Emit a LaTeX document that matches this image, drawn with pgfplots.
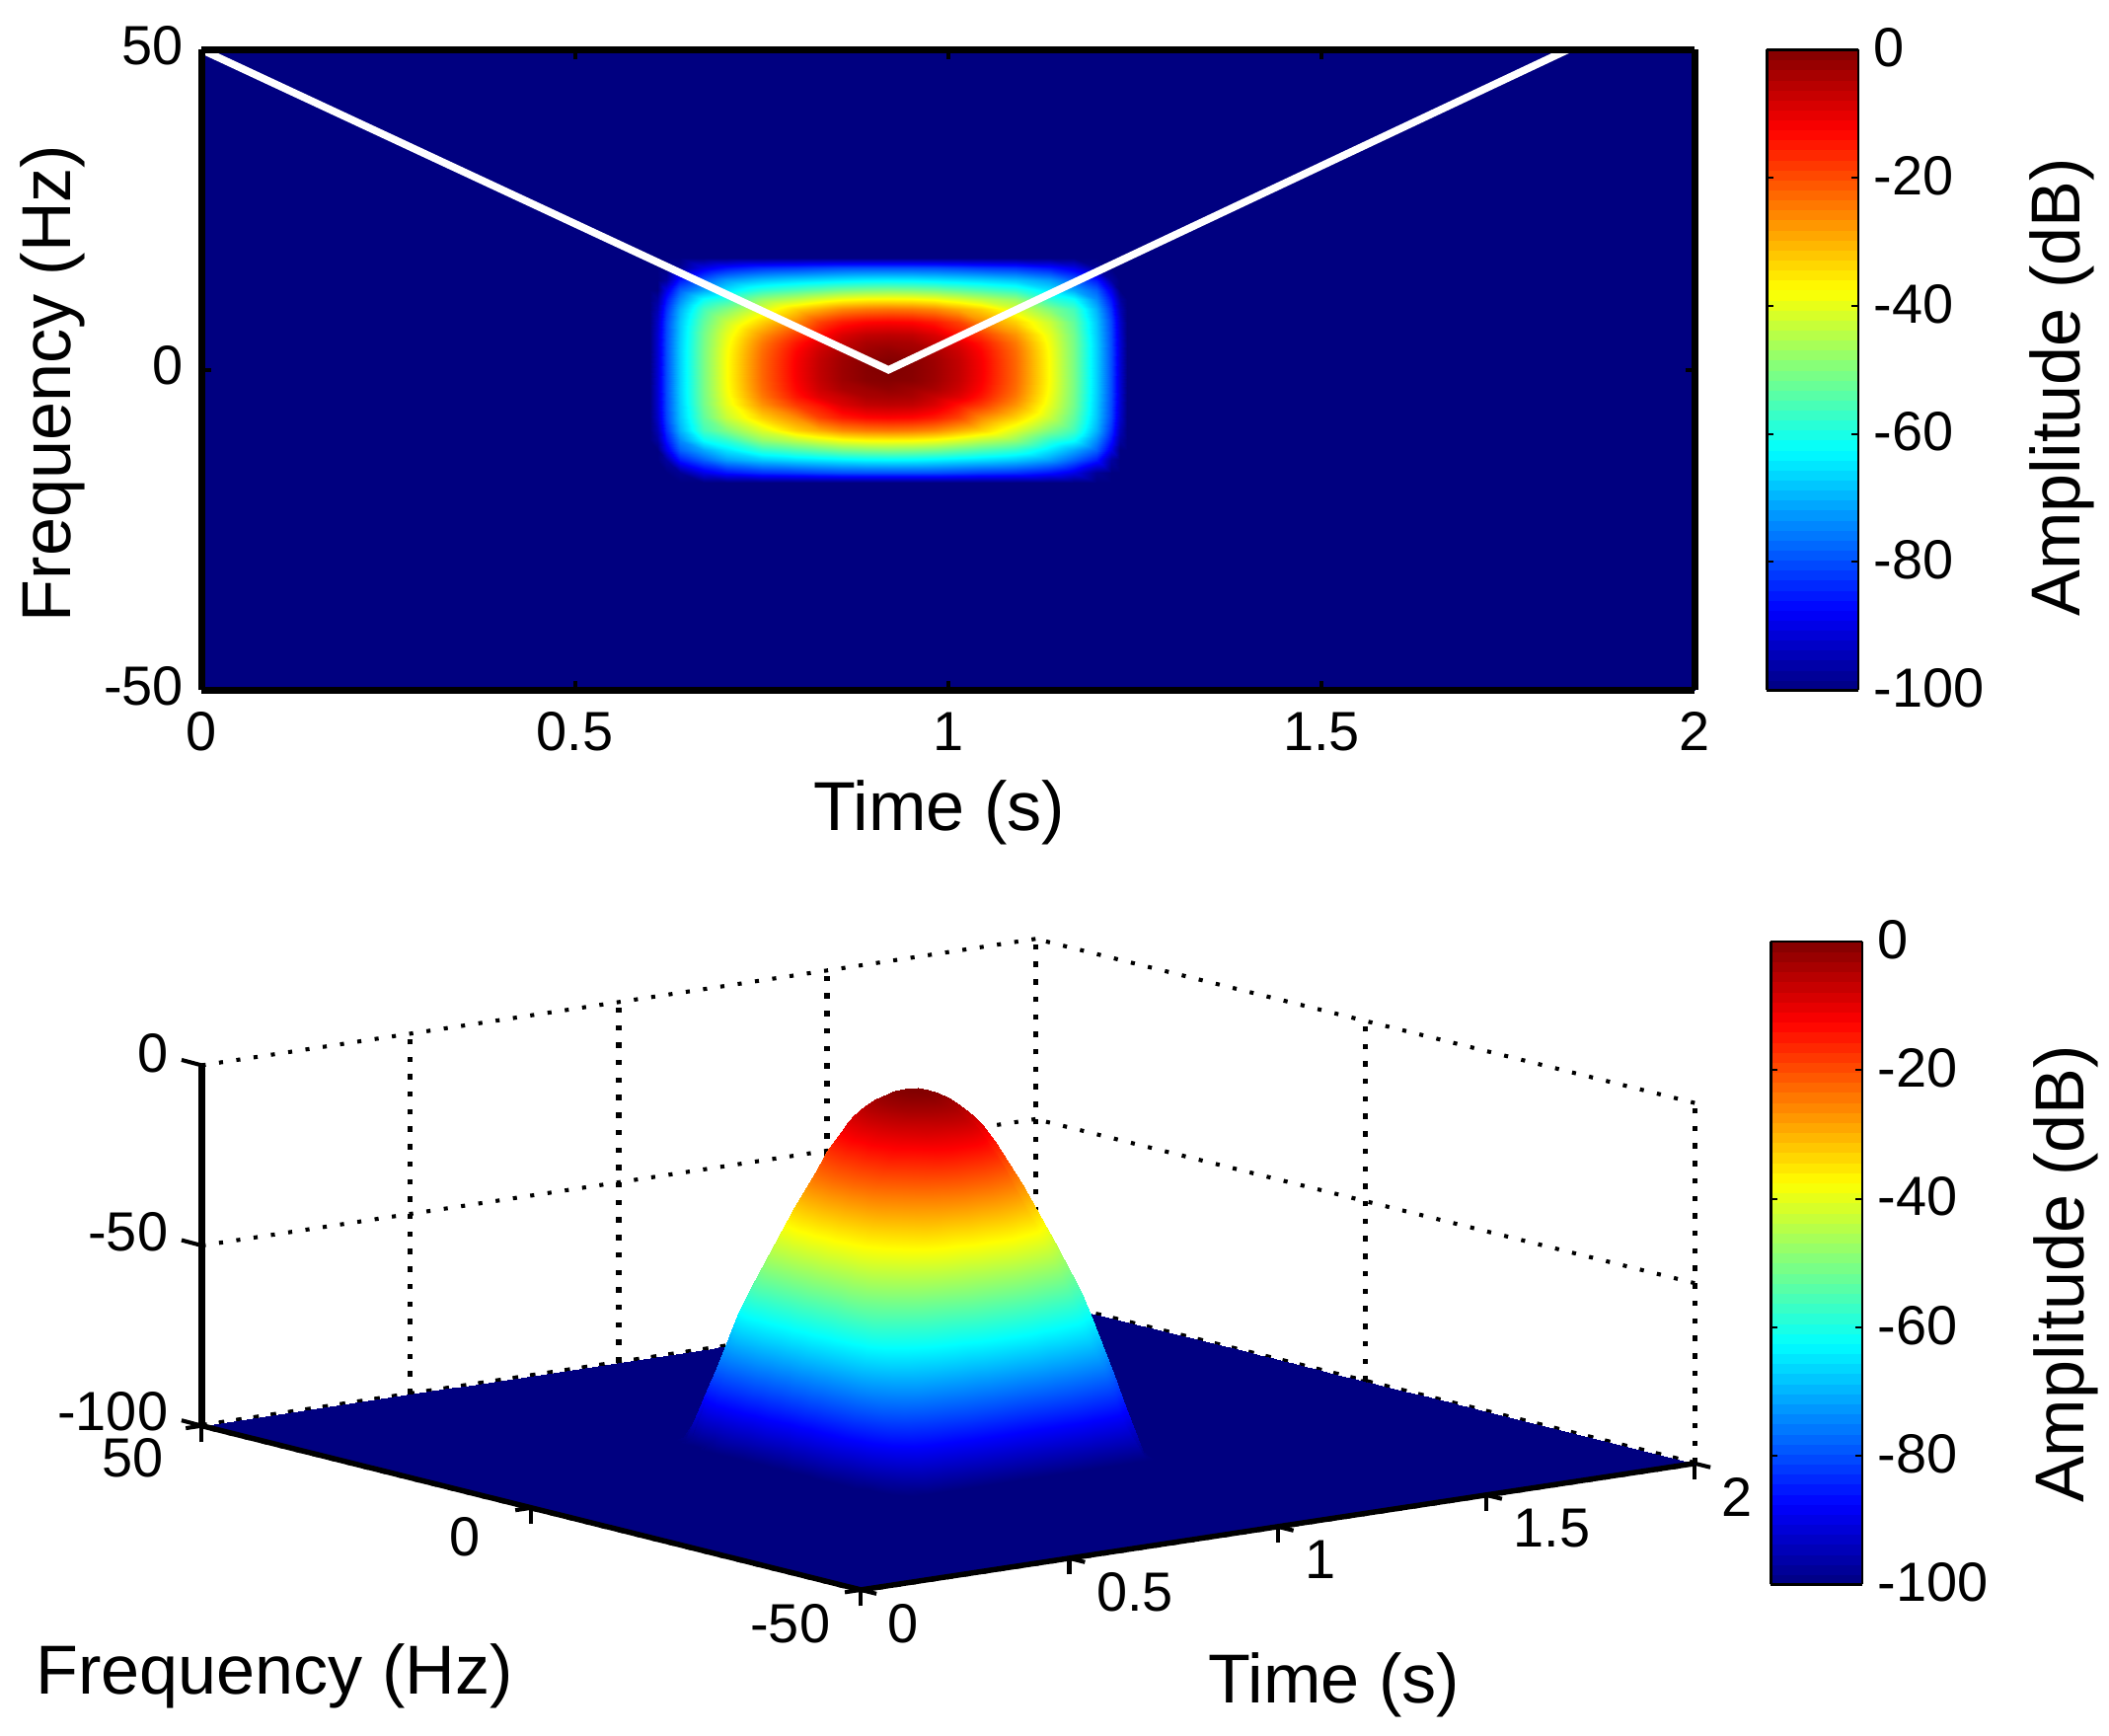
\documentclass[border=0pt]{standalone}
\usepackage{fontspec}
\setmainfont{Liberation Sans}
\usepackage{pgfplots}
\pgfplotsset{compat=1.18}

% spectrogram amplitude in dB; one line per time
\pgfplotstableread[row sep=\\]{
t f z\\
0 -50 -100\\ 0 -17.6 -100\\ 0 -16 -100\\ 0 -14 -100\\ 0 -12.5 -100\\ 0 -11 -100\\ 0 -9.5 -100\\ 0 -7.5 -100\\ 0 -5.5 -100\\ 0 -4.25 -100\\ 0 -3 -100\\ 0 -1.5 -100\\ 0 0 -100\\ 0 1.5 -100\\ 0 3 -100\\ 0 4.25 -100\\ 0 5.5 -100\\ 0 7.5 -100\\ 0 9.5 -100\\ 0 11 -100\\ 0 12.5 -100\\ 0 14 -100\\ 0 16 -100\\ 0 17.6 -100\\ 0 50 -100\\
.6 -50 -100\\ .6 -17.6 -100\\ .6 -16 -100\\ .6 -14 -100\\ .6 -12.5 -100\\ .6 -11 -100\\ .6 -9.5 -100\\ .6 -7.5 -100\\ .6 -5.5 -100\\ .6 -4.25 -100\\ .6 -3 -100\\ .6 -1.5 -100\\ .6 0 -100\\ .6 1.5 -100\\ .6 3 -100\\ .6 4.25 -100\\ .6 5.5 -100\\ .6 7.5 -100\\ .6 9.5 -100\\ .6 11 -100\\ .6 12.5 -100\\ .6 14 -100\\ .6 16 -100\\ .6 17.6 -100\\ .6 50 -100\\
.61 -50 -100\\ .61 -17.6 -100\\ .61 -16 -100\\ .61 -14 -100\\ .61 -12.5 -100\\ .61 -11 -97\\ .61 -9.5 -95\\ .61 -7.5 -93\\ .61 -5.5 -92.3\\ .61 -4.25 -92.1\\ .61 -3 -92\\ .61 -1.5 -92\\ .61 0 -92\\ .61 1.5 -92\\ .61 3 -92\\ .61 4.25 -92.1\\ .61 5.5 -92.3\\ .61 7.5 -93\\ .61 9.5 -95\\ .61 11 -97\\ .61 12.5 -100\\ .61 14 -100\\ .61 16 -100\\ .61 17.6 -100\\ .61 50 -100\\
.622 -50 -100\\ .622 -17.6 -100\\ .622 -16 -100\\ .622 -14 -97\\ .622 -12.5 -90\\ .622 -11 -86\\ .622 -9.5 -83\\ .622 -7.5 -80.8\\ .622 -5.5 -80.3\\ .622 -4.25 -80.1\\ .622 -3 -80\\ .622 -1.5 -80\\ .622 0 -80\\ .622 1.5 -80\\ .622 3 -80\\ .622 4.25 -80.1\\ .622 5.5 -80.3\\ .622 7.5 -80.8\\ .622 9.5 -83\\ .622 11 -86\\ .622 12.5 -90\\ .622 14 -97\\ .622 16 -100\\ .622 17.6 -100\\ .622 50 -100\\
.641 -50 -100\\ .641 -17.6 -100\\ .641 -16 -98\\ .641 -14 -85\\ .641 -12.5 -78\\ .641 -11 -74\\ .641 -9.5 -70\\ .641 -7.5 -68\\ .641 -5.5 -67.5\\ .641 -4.25 -67.2\\ .641 -3 -67\\ .641 -1.5 -67\\ .641 0 -67\\ .641 1.5 -67\\ .641 3 -67\\ .641 4.25 -67.2\\ .641 5.5 -67.5\\ .641 7.5 -68\\ .641 9.5 -70\\ .641 11 -74\\ .641 12.5 -78\\ .641 14 -85\\ .641 16 -98\\ .641 17.6 -100\\ .641 50 -100\\
.672 -50 -100\\ .672 -17.6 -100\\ .672 -16 -90\\ .672 -14 -78\\ .672 -12.5 -71\\ .672 -11 -62\\ .672 -9.5 -56\\ .672 -7.5 -53\\ .672 -5.5 -51.2\\ .672 -4.25 -50.9\\ .672 -3 -50.6\\ .672 -1.5 -50.5\\ .672 0 -50.5\\ .672 1.5 -50.5\\ .672 3 -50.6\\ .672 4.25 -50.9\\ .672 5.5 -51.2\\ .672 7.5 -53\\ .672 9.5 -56\\ .672 11 -62\\ .672 12.5 -71\\ .672 14 -78\\ .672 16 -90\\ .672 17.6 -100\\ .672 50 -100\\
.703 -50 -100\\ .703 -17.6 -100\\ .703 -16 -86\\ .703 -14 -72\\ .703 -12.5 -65\\ .703 -11 -58\\ .703 -9.5 -50\\ .703 -7.5 -43\\ .703 -5.5 -40\\ .703 -4.25 -39\\ .703 -3 -38.3\\ .703 -1.5 -38\\ .703 0 -38\\ .703 1.5 -38\\ .703 3 -38.3\\ .703 4.25 -39\\ .703 5.5 -40\\ .703 7.5 -43\\ .703 9.5 -50\\ .703 11 -58\\ .703 12.5 -65\\ .703 14 -72\\ .703 16 -86\\ .703 17.6 -100\\ .703 50 -100\\
.75 -50 -100\\ .75 -17.6 -100\\ .75 -16 -83\\ .75 -14 -68\\ .75 -12.5 -58\\ .75 -11 -48\\ .75 -9.5 -41\\ .75 -7.5 -33\\ .75 -5.5 -27\\ .75 -4.25 -24.5\\ .75 -3 -23.2\\ .75 -1.5 -22.6\\ .75 0 -22.5\\ .75 1.5 -22.6\\ .75 3 -23.2\\ .75 4.25 -24.5\\ .75 5.5 -27\\ .75 7.5 -33\\ .75 9.5 -41\\ .75 11 -48\\ .75 12.5 -58\\ .75 14 -68\\ .75 16 -83\\ .75 17.6 -100\\ .75 50 -100\\
.796 -50 -100\\ .796 -17.6 -100\\ .796 -16 -82\\ .796 -14 -66\\ .796 -12.5 -55\\ .796 -11 -44\\ .796 -9.5 -33\\ .796 -7.5 -26\\ .796 -5.5 -18\\ .796 -4.25 -14.5\\ .796 -3 -12.8\\ .796 -1.5 -11.9\\ .796 0 -11.7\\ .796 1.5 -11.9\\ .796 3 -12.8\\ .796 4.25 -14.5\\ .796 5.5 -18\\ .796 7.5 -26\\ .796 9.5 -33\\ .796 11 -44\\ .796 12.5 -55\\ .796 14 -66\\ .796 16 -82\\ .796 17.6 -100\\ .796 50 -100\\
.827 -50 -100\\ .827 -17.6 -100\\ .827 -16 -81\\ .827 -14 -65\\ .827 -12.5 -53\\ .827 -11 -41\\ .827 -9.5 -29.5\\ .827 -7.5 -19\\ .827 -5.5 -14\\ .827 -4.25 -9.5\\ .827 -3 -7.6\\ .827 -1.5 -6.6\\ .827 0 -6.4\\ .827 1.5 -6.6\\ .827 3 -7.6\\ .827 4.25 -9.5\\ .827 5.5 -14\\ .827 7.5 -19\\ .827 9.5 -29.5\\ .827 11 -41\\ .827 12.5 -53\\ .827 14 -65\\ .827 16 -81\\ .827 17.6 -100\\ .827 50 -100\\
.858 -50 -100\\ .858 -17.6 -100\\ .858 -16 -80.2\\ .858 -14 -64\\ .858 -12.5 -51\\ .858 -11 -38.5\\ .858 -9.5 -26\\ .858 -7.5 -15\\ .858 -5.5 -9\\ .858 -4.25 -7\\ .858 -3 -4.2\\ .858 -1.5 -3\\ .858 0 -2.8\\ .858 1.5 -3\\ .858 3 -4.2\\ .858 4.25 -7\\ .858 5.5 -9\\ .858 7.5 -15\\ .858 9.5 -26\\ .858 11 -38.5\\ .858 12.5 -51\\ .858 14 -64\\ .858 16 -80.2\\ .858 17.6 -100\\ .858 50 -100\\
.889 -50 -100\\ .889 -17.6 -100\\ .889 -16 -80\\ .889 -14 -63.2\\ .889 -12.5 -50\\ .889 -11 -37.2\\ .889 -9.5 -24.5\\ .889 -7.5 -13\\ .889 -5.5 -6.5\\ .889 -4.25 -4.2\\ .889 -3 -3\\ .889 -1.5 -.9\\ .889 0 -.7\\ .889 1.5 -.9\\ .889 3 -3\\ .889 4.25 -4.2\\ .889 5.5 -6.5\\ .889 7.5 -13\\ .889 9.5 -24.5\\ .889 11 -37.2\\ .889 12.5 -50\\ .889 14 -63.2\\ .889 16 -80\\ .889 17.6 -100\\ .889 50 -100\\
.92 -50 -100\\ .92 -17.6 -100\\ .92 -16 -80\\ .92 -14 -63\\ .92 -12.5 -49.5\\ .92 -11 -37\\ .92 -9.5 -24\\ .92 -7.5 -12.5\\ .92 -5.5 -6\\ .92 -4.25 -3.7\\ .92 -3 -1.8\\ .92 -1.5 -.45\\ .92 0 0\\ .92 1.5 -.45\\ .92 3 -1.8\\ .92 4.25 -3.7\\ .92 5.5 -6\\ .92 7.5 -12.5\\ .92 9.5 -24\\ .92 11 -37\\ .92 12.5 -49.5\\ .92 14 -63\\ .92 16 -80\\ .92 17.6 -100\\ .92 50 -100\\
.951 -50 -100\\ .951 -17.6 -100\\ .951 -16 -80\\ .951 -14 -63.2\\ .951 -12.5 -50\\ .951 -11 -37.2\\ .951 -9.5 -24.5\\ .951 -7.5 -13\\ .951 -5.5 -6.5\\ .951 -4.25 -4.2\\ .951 -3 -3\\ .951 -1.5 -.9\\ .951 0 -.7\\ .951 1.5 -.9\\ .951 3 -3\\ .951 4.25 -4.2\\ .951 5.5 -6.5\\ .951 7.5 -13\\ .951 9.5 -24.5\\ .951 11 -37.2\\ .951 12.5 -50\\ .951 14 -63.2\\ .951 16 -80\\ .951 17.6 -100\\ .951 50 -100\\
.982 -50 -100\\ .982 -17.6 -100\\ .982 -16 -80.2\\ .982 -14 -64\\ .982 -12.5 -51\\ .982 -11 -38.5\\ .982 -9.5 -26\\ .982 -7.5 -15\\ .982 -5.5 -9\\ .982 -4.25 -7\\ .982 -3 -4.2\\ .982 -1.5 -3\\ .982 0 -2.8\\ .982 1.5 -3\\ .982 3 -4.2\\ .982 4.25 -7\\ .982 5.5 -9\\ .982 7.5 -15\\ .982 9.5 -26\\ .982 11 -38.5\\ .982 12.5 -51\\ .982 14 -64\\ .982 16 -80.2\\ .982 17.6 -100\\ .982 50 -100\\
1.013 -50 -100\\ 1.013 -17.6 -100\\ 1.013 -16 -81\\ 1.013 -14 -65\\ 1.013 -12.5 -53\\ 1.013 -11 -41\\ 1.013 -9.5 -29.5\\ 1.013 -7.5 -19\\ 1.013 -5.5 -14\\ 1.013 -4.25 -9.5\\ 1.013 -3 -7.6\\ 1.013 -1.5 -6.6\\ 1.013 0 -6.4\\ 1.013 1.5 -6.6\\ 1.013 3 -7.6\\ 1.013 4.25 -9.5\\ 1.013 5.5 -14\\ 1.013 7.5 -19\\ 1.013 9.5 -29.5\\ 1.013 11 -41\\ 1.013 12.5 -53\\ 1.013 14 -65\\ 1.013 16 -81\\ 1.013 17.6 -100\\ 1.013 50 -100\\
1.044 -50 -100\\ 1.044 -17.6 -100\\ 1.044 -16 -82\\ 1.044 -14 -66\\ 1.044 -12.5 -55\\ 1.044 -11 -44\\ 1.044 -9.5 -33\\ 1.044 -7.5 -26\\ 1.044 -5.5 -18\\ 1.044 -4.25 -14.5\\ 1.044 -3 -12.8\\ 1.044 -1.5 -11.9\\ 1.044 0 -11.7\\ 1.044 1.5 -11.9\\ 1.044 3 -12.8\\ 1.044 4.25 -14.5\\ 1.044 5.5 -18\\ 1.044 7.5 -26\\ 1.044 9.5 -33\\ 1.044 11 -44\\ 1.044 12.5 -55\\ 1.044 14 -66\\ 1.044 16 -82\\ 1.044 17.6 -100\\ 1.044 50 -100\\
1.09 -50 -100\\ 1.09 -17.6 -100\\ 1.09 -16 -83\\ 1.09 -14 -68\\ 1.09 -12.5 -58\\ 1.09 -11 -48\\ 1.09 -9.5 -41\\ 1.09 -7.5 -33\\ 1.09 -5.5 -27\\ 1.09 -4.25 -24.5\\ 1.09 -3 -23.2\\ 1.09 -1.5 -22.6\\ 1.09 0 -22.5\\ 1.09 1.5 -22.6\\ 1.09 3 -23.2\\ 1.09 4.25 -24.5\\ 1.09 5.5 -27\\ 1.09 7.5 -33\\ 1.09 9.5 -41\\ 1.09 11 -48\\ 1.09 12.5 -58\\ 1.09 14 -68\\ 1.09 16 -83\\ 1.09 17.6 -100\\ 1.09 50 -100\\
1.137 -50 -100\\ 1.137 -17.6 -100\\ 1.137 -16 -86\\ 1.137 -14 -72\\ 1.137 -12.5 -65\\ 1.137 -11 -58\\ 1.137 -9.5 -50\\ 1.137 -7.5 -43\\ 1.137 -5.5 -40\\ 1.137 -4.25 -39\\ 1.137 -3 -38.3\\ 1.137 -1.5 -38\\ 1.137 0 -38\\ 1.137 1.5 -38\\ 1.137 3 -38.3\\ 1.137 4.25 -39\\ 1.137 5.5 -40\\ 1.137 7.5 -43\\ 1.137 9.5 -50\\ 1.137 11 -58\\ 1.137 12.5 -65\\ 1.137 14 -72\\ 1.137 16 -86\\ 1.137 17.6 -100\\ 1.137 50 -100\\
1.168 -50 -100\\ 1.168 -17.6 -100\\ 1.168 -16 -90\\ 1.168 -14 -78\\ 1.168 -12.5 -71\\ 1.168 -11 -62\\ 1.168 -9.5 -56\\ 1.168 -7.5 -53\\ 1.168 -5.5 -51.2\\ 1.168 -4.25 -50.9\\ 1.168 -3 -50.6\\ 1.168 -1.5 -50.5\\ 1.168 0 -50.5\\ 1.168 1.5 -50.5\\ 1.168 3 -50.6\\ 1.168 4.25 -50.9\\ 1.168 5.5 -51.2\\ 1.168 7.5 -53\\ 1.168 9.5 -56\\ 1.168 11 -62\\ 1.168 12.5 -71\\ 1.168 14 -78\\ 1.168 16 -90\\ 1.168 17.6 -100\\ 1.168 50 -100\\
1.199 -50 -100\\ 1.199 -17.6 -100\\ 1.199 -16 -98\\ 1.199 -14 -85\\ 1.199 -12.5 -78\\ 1.199 -11 -74\\ 1.199 -9.5 -70\\ 1.199 -7.5 -68\\ 1.199 -5.5 -67.5\\ 1.199 -4.25 -67.2\\ 1.199 -3 -67\\ 1.199 -1.5 -67\\ 1.199 0 -67\\ 1.199 1.5 -67\\ 1.199 3 -67\\ 1.199 4.25 -67.2\\ 1.199 5.5 -67.5\\ 1.199 7.5 -68\\ 1.199 9.5 -70\\ 1.199 11 -74\\ 1.199 12.5 -78\\ 1.199 14 -85\\ 1.199 16 -98\\ 1.199 17.6 -100\\ 1.199 50 -100\\
1.218 -50 -100\\ 1.218 -17.6 -100\\ 1.218 -16 -100\\ 1.218 -14 -97\\ 1.218 -12.5 -90\\ 1.218 -11 -86\\ 1.218 -9.5 -83\\ 1.218 -7.5 -80.8\\ 1.218 -5.5 -80.3\\ 1.218 -4.25 -80.1\\ 1.218 -3 -80\\ 1.218 -1.5 -80\\ 1.218 0 -80\\ 1.218 1.5 -80\\ 1.218 3 -80\\ 1.218 4.25 -80.1\\ 1.218 5.5 -80.3\\ 1.218 7.5 -80.8\\ 1.218 9.5 -83\\ 1.218 11 -86\\ 1.218 12.5 -90\\ 1.218 14 -97\\ 1.218 16 -100\\ 1.218 17.6 -100\\ 1.218 50 -100\\
1.23 -50 -100\\ 1.23 -17.6 -100\\ 1.23 -16 -100\\ 1.23 -14 -100\\ 1.23 -12.5 -100\\ 1.23 -11 -97\\ 1.23 -9.5 -95\\ 1.23 -7.5 -93\\ 1.23 -5.5 -92.3\\ 1.23 -4.25 -92.1\\ 1.23 -3 -92\\ 1.23 -1.5 -92\\ 1.23 0 -92\\ 1.23 1.5 -92\\ 1.23 3 -92\\ 1.23 4.25 -92.1\\ 1.23 5.5 -92.3\\ 1.23 7.5 -93\\ 1.23 9.5 -95\\ 1.23 11 -97\\ 1.23 12.5 -100\\ 1.23 14 -100\\ 1.23 16 -100\\ 1.23 17.6 -100\\ 1.23 50 -100\\
1.24 -50 -100\\ 1.24 -17.6 -100\\ 1.24 -16 -100\\ 1.24 -14 -100\\ 1.24 -12.5 -100\\ 1.24 -11 -100\\ 1.24 -9.5 -100\\ 1.24 -7.5 -100\\ 1.24 -5.5 -100\\ 1.24 -4.25 -100\\ 1.24 -3 -100\\ 1.24 -1.5 -100\\ 1.24 0 -100\\ 1.24 1.5 -100\\ 1.24 3 -100\\ 1.24 4.25 -100\\ 1.24 5.5 -100\\ 1.24 7.5 -100\\ 1.24 9.5 -100\\ 1.24 11 -100\\ 1.24 12.5 -100\\ 1.24 14 -100\\ 1.24 16 -100\\ 1.24 17.6 -100\\ 1.24 50 -100\\
2 -50 -100\\ 2 -17.6 -100\\ 2 -16 -100\\ 2 -14 -100\\ 2 -12.5 -100\\ 2 -11 -100\\ 2 -9.5 -100\\ 2 -7.5 -100\\ 2 -5.5 -100\\ 2 -4.25 -100\\ 2 -3 -100\\ 2 -1.5 -100\\ 2 0 -100\\ 2 1.5 -100\\ 2 3 -100\\ 2 4.25 -100\\ 2 5.5 -100\\ 2 7.5 -100\\ 2 9.5 -100\\ 2 11 -100\\ 2 12.5 -100\\ 2 14 -100\\ 2 16 -100\\ 2 17.6 -100\\ 2 50 -100\\
}\hill

\newcommand{\labelfont}{\fontsize{51.5}{55}\selectfont}

\pgfplotsset{
	colormap/jet,
	/pgf/number format/assume math mode=true,
	tick label style={font=\fontsize{41}{41}\selectfont},
	ampbar/.style={
		colorbar sampled,
		colorbar style={
			samples=65,
			width=68pt,
			height=#1,
			scale only axis,
			ytick={-100,-80,-60,-40,-20,0},
			ylabel={Amplitude (dB)},
			yticklabel pos=right,
			yticklabel shift=8pt,
			yticklabel style={yshift=1.5pt},
			ylabel shift=27pt,
			axis line style={line width=2pt},
			tick style={black,line width=1.5pt},
			major tick length=5pt,
			tick align=inside,
		},
	},
}

\begin{document}
\begin{tikzpicture}
\path[use as bounding box] (0,0) rectangle (1568pt,1290pt);

\begin{axis}[
	at={(150pt,777pt)}, anchor=south west,
	width=1110pt, height=476pt, scale only axis,
	view={0}{90},
	xmin=0, xmax=2, ymin=-50, ymax=50,
	xtick={0,0.5,1,1.5,2}, ytick={-50,0,50},
	xticklabel shift=13pt, yticklabel shift=10pt,
	yticklabel style={yshift=3pt},
	xlabel={Time (s)}, ylabel={Frequency (Hz)},
	xlabel style={font=\labelfont, at={(ticklabel cs:0.494)}},
	ylabel style={font=\labelfont, at={(ticklabel cs:0.479)}},
	xlabel shift=15pt, ylabel shift=7pt,
	axis on top,
	axis line style={line width=5pt},
	tick style={black,line width=3pt},
	major tick length=7pt,
	tick align=inside,
	point meta min=-100, point meta max=0,
	ampbar=476pt,
	colorbar style={at={(parent axis.south east)}, anchor=south west, xshift=45pt,
		ylabel style={font=\labelfont, at={(ticklabel cs:0.473)}}},
]
\addplot3[surf, shader=interp, mesh/rows=25, mesh/cols=25, mesh/ordering=y varies]
	table[x=t, y=f, z=z] {\hill};
\addplot3[white, line width=5.5pt, line join=miter] coordinates {(0,50,0) (0.92,0,0) (1.83,50,0)};
\end{axis}

\begin{axis}[
	at={(395pt,437pt)}, anchor=origin,
	x={(310pt,47pt)}, y={(-4.9pt,1.22pt)}, z={(0pt,2.68pt)},
	xmin=0, xmax=2, ymin=-50, ymax=50, zmin=-100, zmax=0,
	xtick={0,0.5,1,1.5,2}, ytick={-50,0,50}, ztick={-100,-50,0},
	tick pos=left,
	clip=false,
	grid=major,
	x grid style={black, line width=4pt, dash pattern=on 4pt off 9pt},
	y grid style={black, line width=4pt, dash pattern=on 4pt off 9pt},
	z grid style={black, line width=3pt, dash pattern=on 3pt off 10pt},
	axis line style={draw=none},
	tick style={black,line width=3pt},
	z tick style={draw=none},
	major tick length=12pt,
	tick align=outside,
	x tick label style={anchor=north west, xshift=5pt, yshift=-4pt},
	y tick label style={xshift=-22pt, yshift=-2pt},
	zticklabel shift=10pt,
	z tick label style={yshift=5pt},
	xlabel={Time (s)}, ylabel={Frequency (Hz)},
	xlabel style={font=\labelfont, at={(axis cs:0.158,-111.8,-100)}, anchor=center, yshift=-3pt},
	ylabel style={font=\labelfont, at={(axis cs:-1.365,-47.4,-100)}, anchor=center, yshift=-3pt},
	point meta min=-100, point meta max=0,
	ampbar=478pt,
	colorbar style={at={(parent axis.south east)}, anchor=south west, xshift=48pt, yshift=4pt,
		ylabel style={font=\labelfont, at={(ticklabel cs:0.483)}}},
]
\addplot3[surf, shader=interp, z buffer=sort, mesh/rows=25, mesh/cols=25, mesh/ordering=y varies]
	table[x=t, y=f, z=z] {\hill};
\draw[black, line width=5pt] (axis cs:0,50,0) -- (axis cs:0,50,-100);
\draw[black, line width=4pt] (axis cs:0,50,-100) -- (axis cs:0,-50,-100) -- (axis cs:2,-50,-100);
\draw[black, line width=3pt] (axis cs:0,50,0) -- +(-15pt,4pt);
\draw[black, line width=3pt] (axis cs:0,50,-50) -- +(-15pt,4pt);
\draw[black, line width=3pt] (axis cs:0,50,-100) -- +(-15pt,4pt);
\end{axis}
\end{tikzpicture}
\end{document}
